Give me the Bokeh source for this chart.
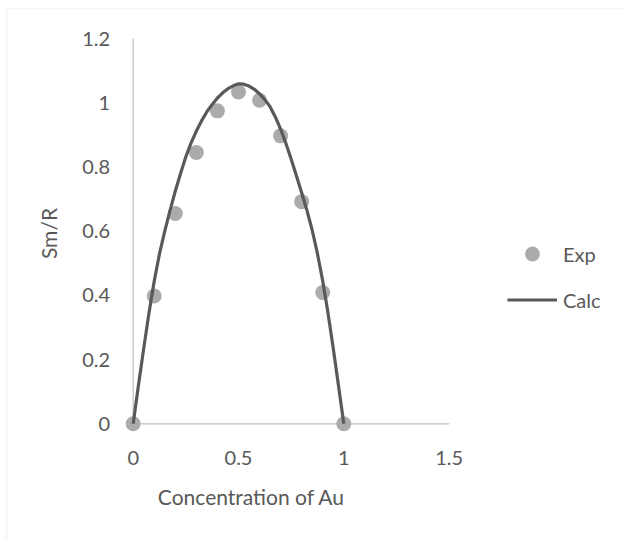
from bokeh.plotting import figure
from bokeh.models import Legend, LegendItem, Label, BoxAnnotation, Range1d
from bokeh.core.properties import value
from bokeh.embed import file_html
from bokeh.resources import INLINE

# Data
exp_x = [0.0, 0.1, 0.2, 0.3, 0.4, 0.5, 0.6, 0.7, 0.8, 0.9, 1.0]
exp_y = [0.0, 0.398, 0.655, 0.845, 0.975, 1.034, 1.008, 0.897, 0.692, 0.409, 0.0]

calc_x = [0.0, 0.025, 0.05, 0.075, 0.1, 0.125, 0.15, 0.175, 0.2, 0.225, 0.25,
          0.275, 0.3, 0.325, 0.35, 0.375, 0.4, 0.425, 0.45, 0.475, 0.5,
          0.525, 0.55, 0.575, 0.6, 0.625, 0.65, 0.675, 0.7, 0.725, 0.75,
          0.775, 0.8, 0.825, 0.85, 0.875, 0.9, 0.925, 0.95, 0.975, 1.0]
calc_y = [0.0, 0.12, 0.235, 0.345, 0.445, 0.53, 0.60, 0.665, 0.725, 0.78, 0.832,
          0.875, 0.912, 0.944, 0.972, 0.995, 1.015, 1.031, 1.044, 1.053, 1.059,
          1.058, 1.052, 1.042, 1.028, 1.010, 0.988, 0.956, 0.918, 0.874, 0.825,
          0.773, 0.72, 0.665, 0.603, 0.53, 0.445, 0.345, 0.235, 0.118, 0.0]

x_ticks = [0, 0.5, 1, 1.5]
x_tick_labels = ["0", "0.5", "1", "1.5"]
y_ticks = [0, 0.2, 0.4, 0.6, 0.8, 1.0, 1.2]
y_tick_labels = ["0", "0.2", "0.4", "0.6", "0.8", "1", "1.2"]

FONT = "Lato"
TXT = "#595959"
AXIS = "#bfbfbf"

p = figure(width=625, height=539, output_backend="svg", toolbar_location=None,
           x_range=Range1d(-0.630, 2.3376), y_range=Range1d(-0.3604, 1.3187),
           min_border=0)
p.outline_line_color = None
p.grid.visible = False
p.axis.visible = False
p.background_fill_color = "white"
p.border_fill_color = "white"

# axis lines (Excel style, crossing at the origin)
p.line([x_ticks[0], x_ticks[-1]], [0, 0], line_color=AXIS, line_width=1.2)
p.line([0, 0], [y_ticks[0], y_ticks[-1]], line_color=AXIS, line_width=1.2)

# tick labels
p.text(x=x_ticks, y=[0] * len(x_ticks), text=x_tick_labels, y_offset=34,
       text_align="center", text_baseline="middle", text_font=value(FONT),
       text_font_size="20px", text_color=TXT)
p.text(x=[0] * len(y_ticks), y=y_ticks, text=y_tick_labels, x_offset=-23,
       text_align="right", text_baseline="middle", text_font=value(FONT),
       text_font_size="20px", text_color=TXT)

r_exp = p.scatter(exp_x, exp_y, size=15, marker="circle", fill_color="#ababab", line_color=None)
r_calc = p.line(calc_x, calc_y, line_color="#595959", line_width=3.2)

legend = Legend(items=[LegendItem(label="Exp", renderers=[r_exp]),
                       LegendItem(label="Calc", renderers=[r_calc])],
                location=(507, 221), glyph_width=50, glyph_height=37, spacing=9,
                padding=0, margin=0, label_standoff=6, border_line_color=None,
                background_fill_alpha=0, label_text_font=FONT, label_text_font_size="20px",
                label_text_color=TXT)
p.add_layout(legend, "center")

p.add_layout(Label(x=251, y=496, x_units="canvas", y_units="canvas", text="Concentration of Au",
                   text_align="center", text_baseline="middle", text_font=FONT,
                   text_font_size="21px", text_color=TXT))
p.add_layout(Label(x=48, y=233, x_units="canvas", y_units="canvas", text="Sm/R", angle=1.5708,
                   text_align="center", text_baseline="middle", text_font=FONT,
                   text_font_size="21px", text_color=TXT))

p.add_layout(BoxAnnotation(left=6, right=660, top=8, bottom=580, left_units="canvas",
                           right_units="canvas", top_units="canvas", bottom_units="canvas",
                           fill_alpha=0, line_color="#d9d9d9", line_width=1.5))

open("out.html", "w").write(file_html(p, INLINE))
